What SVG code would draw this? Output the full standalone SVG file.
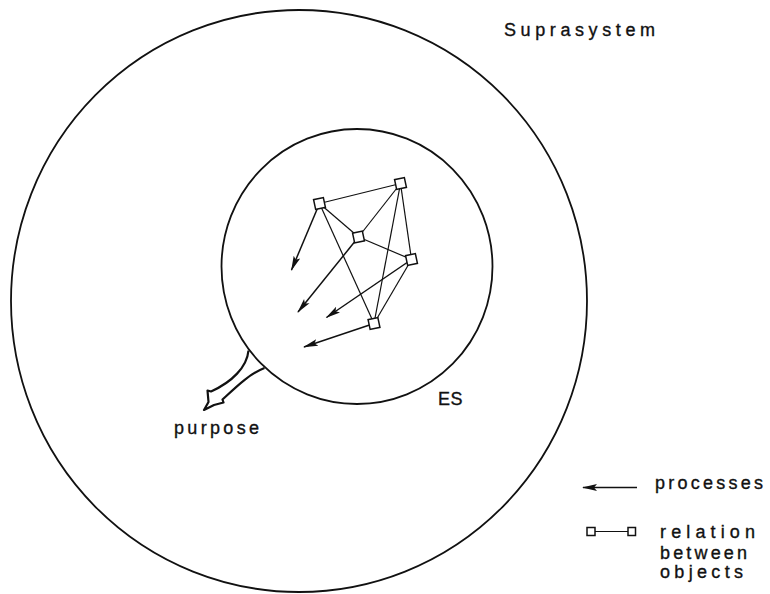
<svg xmlns="http://www.w3.org/2000/svg" width="770" height="594" viewBox="0 0 770 594">
<defs>
<style>
.ring{fill:none;stroke:#111;stroke-width:1.8}
.edge{fill:none;stroke:#111;stroke-width:1.2}
.proc{fill:none;stroke:#111;stroke-width:1.5;marker-end:url(#ah)}
.obj{fill:#fff;stroke:#111;stroke-width:1.5}
.lbl{font-family:"Liberation Sans",Arial,sans-serif;font-size:18px;fill:#111;stroke:#111;stroke-width:0.35}
</style>
<marker id="ah" viewBox="0 0 15 9" refX="14" refY="4.5" markerWidth="15" markerHeight="9" markerUnits="userSpaceOnUse" orient="auto">
<path d="M0,1 L15,4.5 L0,8 L3,4.5 Z" fill="#111"/>
</marker>
</defs>
<rect width="770" height="594" fill="#fff"/>

<g id="suprasystem">
<ellipse class="ring" cx="299" cy="301" rx="288" ry="291"/>
<text class="lbl" x="504" y="36" font-size="19" textLength="151" lengthAdjust="spacing">Suprasystem</text>
</g>

<g id="es">
<ellipse class="ring" cx="357" cy="266.5" rx="135.5" ry="137.5"/>
<text class="lbl" x="438" y="405" font-size="17" letter-spacing="0.5">ES</text>
</g>

<g id="connectors">
<line class="edge" x1="319.5" y1="203.5" x2="400.5" y2="183.5"/>
<line class="edge" x1="319.5" y1="203.5" x2="358.5" y2="237"/>
<line class="edge" x1="358.5" y1="237" x2="400.5" y2="183.5"/>
<line class="edge" x1="358.5" y1="237" x2="411.5" y2="259.5"/>
<line class="edge" x1="400.5" y1="183.5" x2="411.5" y2="259.5"/>
<line class="edge" x1="400.5" y1="183.5" x2="374" y2="323.5"/>
<line class="edge" x1="411.5" y1="259.5" x2="374" y2="323.5"/>
<line class="edge" x1="319.5" y1="203.5" x2="374" y2="323.5"/>
<line class="proc" x1="319.5" y1="203.5" x2="291.5" y2="270"/>
<line class="proc" x1="358.5" y1="237" x2="298" y2="312"/>
<line class="proc" x1="411.5" y1="259.5" x2="326.5" y2="317.5"/>
<line class="proc" x1="374" y1="323.5" x2="304" y2="347"/>
</g>

<g id="objA"><rect class="obj" x="314.5" y="198.5" width="10" height="10" transform="rotate(-12 319.5 203.5)"/></g>
<g id="objB"><rect class="obj" x="395.5" y="178.5" width="10" height="10" transform="rotate(-12 400.5 183.5)"/></g>
<g id="objC"><rect class="obj" x="353.5" y="232" width="10" height="10" transform="rotate(-12 358.5 237)"/></g>
<g id="objD"><rect class="obj" x="406.5" y="254.5" width="10" height="10" transform="rotate(-12 411.5 259.5)"/></g>
<g id="objE"><rect class="obj" x="369" y="318.5" width="10" height="10" transform="rotate(-12 374 323.5)"/></g>

<g id="purpose">
<path d="M248.5,350.5 C247,367 232,382 211,391.5 L207.5,390.5 L208.5,402 L204,410 L214,405 L223.5,402.5 L222.5,399.5 C236,387 249,374 264.5,368" fill="none" stroke="#111" stroke-width="2.2" stroke-linejoin="round"/>
<text class="lbl" x="174" y="434" textLength="85" lengthAdjust="spacing">purpose</text>
</g>

<g id="legend">
<line x1="637" y1="487.5" x2="583" y2="487.5" class="proc"/>
<text class="lbl" x="655" y="489" textLength="108" lengthAdjust="spacing">processes</text>
<line x1="595" y1="531.5" x2="628" y2="531.5" stroke="#111" stroke-width="1.1"/>
<rect class="obj" x="587" y="527.5" width="8" height="8"/>
<rect class="obj" x="628" y="527.5" width="7.5" height="8"/>
<text class="lbl" x="660" y="538" textLength="95" lengthAdjust="spacing">relation</text>
<text class="lbl" x="660" y="559" textLength="87" lengthAdjust="spacing">between</text>
<text class="lbl" x="660" y="578" textLength="83" lengthAdjust="spacing">objects</text>
</g>
</svg>
